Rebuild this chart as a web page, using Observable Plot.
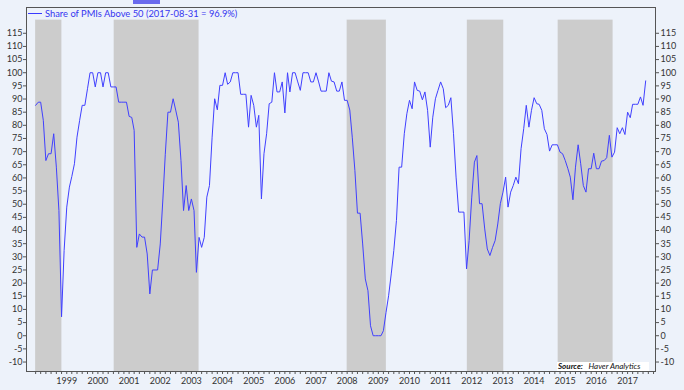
<!DOCTYPE html>
<html><head><meta charset="utf-8">
<script src="https://cdn.jsdelivr.net/npm/d3@7"></script>
<script src="https://cdn.jsdelivr.net/npm/@observablehq/plot@0.6"></script>
<style>
body{margin:0;background:#edf2fa;}
#wrap{position:relative;width:684px;height:390px;overflow:hidden;font-family:Lato,sans-serif;}
#legend{position:absolute;left:28px;top:8px;font-size:9.35px;color:#3535f0;white-space:nowrap;display:flex;align-items:center;}
#legend span.sw{display:inline-block;width:14px;height:0;border-top:1.2px solid #3a3aff;margin-right:3px;}
#source{position:absolute;left:557px;top:362px;width:91px;height:8.5px;background:#fff;font-size:8px;line-height:8.5px;color:#111;font-style:italic;white-space:nowrap;padding-left:1px;}
#tab{position:absolute;left:133px;top:0;width:27px;height:4px;background:#6a6aee;}
</style></head><body>
<div id="wrap"><div id="tab"></div></div>
<script>
// Monthly share of PMIs above 50 (%), starting January 1998, ending August 2017
const startYear = 1998;
const shareAbove50 = [
  87.6, 88.8, 88.8, 81.9, 66.6, 69.2, 69.2, 76.8, 64.1, 47.6, 7.2, 32.4,   // 1998
  48.9, 56.5, 60.5, 65.4, 75.5, 81.9, 87.6, 87.6, 93.9, 100, 100, 94.6,    // 1999
  100, 100, 94.6, 100, 100, 94.6, 94.6, 94.6, 88.8, 88.8, 88.8, 88.8,      // 2000
  83.4, 83.0, 78.1, 33.6, 38.7, 37.5, 37.5, 31.1, 15.9, 25.0, 25.0, 25.0,  // 2001
  34.9, 52.0, 69.0, 85.0, 85.0, 90.1, 85.8, 81.2, 66.6, 47.6, 57.1, 47.6,  // 2002
  52.0, 47.6, 24.1, 37.4, 33.6, 37.4, 52.7, 57.1, 75.5, 90.1, 85.9, 95.2,  // 2003
  95.2, 100, 95.6, 96.5, 100, 100, 100, 91.8, 91.8, 91.8, 79.3, 91.4,      // 2004
  87.6, 79.3, 83.8, 52.0, 69.2, 76.8, 88.2, 88.8, 100, 92.7, 92.7, 96.5,   // 2005
  84.7, 100, 92.7, 100, 100, 96.5, 93.3, 100, 100, 100, 96.5, 96.5,        // 2006
  100, 96.5, 93.0, 93.0, 93.0, 100, 96.8, 96.5, 93.0, 93.0, 96.5, 89.5,    // 2007
  89.5, 85.8, 75.5, 62.8, 46.6, 46.6, 34.9, 21.6, 17.1, 3.8, 0, 0,         // 2008
  0, 0, 1.9, 8.9, 15.2, 23.5, 32.4, 43.8, 64.1, 64.1, 76.8, 84.4,          // 2009
  89.5, 86.3, 96.5, 93.3, 93.0, 89.7, 92.7, 85.7, 71.7, 83.1, 90.1, 93.3,  // 2010
  96.5, 93.9, 86.7, 87.6, 90.5, 76.8, 60.3, 47.0, 47.0, 47.0, 25.4, 36.2,  // 2011
  52.7, 66.0, 68.5, 50.2, 50.2, 40.6, 33.0, 30.5, 33.6, 36.2, 42.5, 50.2,  // 2012
  54.6, 60.3, 48.9, 54.6, 57.1, 60.3, 57.8, 71.1, 78.7, 87.6, 79.3, 85.7,  // 2013
  90.5, 88.2, 88.0, 85.7, 78.7, 76.5, 70.2, 72.6, 72.6, 72.6, 69.8, 69.2,  // 2014
  66.6, 63.5, 60.3, 51.7, 64.1, 72.6, 65.4, 57.1, 54.6, 63.5, 63.5, 69.4,  // 2015
  63.5, 63.5, 66.4, 66.6, 67.7, 76.2, 67.9, 69.8, 79.1, 76.8, 79.1, 76.5,  // 2016
  85.0, 82.9, 88.0, 88.0, 88.0, 90.8, 87.6, 96.9                           // 2017
];
const shadeStart = ["1998-01-01", "2000-07-10", "2008-01-01", "2011-11-10", "2014-10-10"];
const shadeEnd   = ["1998-11-05", "2003-04-01", "2009-04-05", "2013-01-10", "2016-07-15"];
const shadeTop = 120;
const yearLabels = [1999,2000,2001,2002,2003,2004,2005,2006,2007,2008,2009,2010,2011,2012,2013,2014,2015,2016,2017];
const yTickValues = [-10,-5,0,5,10,15,20,25,30,35,40,45,50,55,60,65,70,75,80,85,90,95,100,105,110,115];
const xDomain = ["1997-09-16", "2017-11-24"];
const yDomain = [-13.6, 124.8];

const data = shareAbove50.map((v, i) => ({date: new Date(Date.UTC(startYear, i, 1)), value: v}));
const shaded = shadeStart.map((s, i) => ({x1: new Date(s), x2: new Date(shadeEnd[i])}));
const yearDates = yearLabels.map(y => new Date(Date.UTC(y, 0, 1)));
const minorTicks = d3.utcMonth.every(2).range(new Date(Date.UTC(1998,0,1)), new Date(Date.UTC(2017,11,2)));

const chart = Plot.plot({
  width: 684, height: 390,
  marginTop: 7, marginBottom: 19, marginLeft: 26, marginRight: 29,
  style: {background: "transparent", fontFamily: "Lato, sans-serif", fontSize: "9px", color: "#333"},
  x: {type: "utc", domain: xDomain.map(d => new Date(d))},
  y: {domain: yDomain},
  marks: [
    Plot.rect(shaded, {x1: "x1", x2: "x2", y1: yDomain[0], y2: shadeTop, fill: "#cccccc"}),
    Plot.line(data, {x: "date", y: "value", stroke: "#4040ff", strokeWidth: 1}),
    Plot.frame({stroke: "#555"}),
    Plot.axisY({anchor: "left", ticks: yTickValues, tickSize: 3, tickPadding: 1, tickFormat: d => String(d), label: null, stroke: "#555"}),
    Plot.axisY({anchor: "right", ticks: yTickValues, tickSize: 3, tickPadding: 2, tickFormat: d => String(d), label: null, stroke: "#555"}),
    Plot.axisX({ticks: minorTicks, tickSize: 3, tickFormat: () => "", label: null, stroke: "#555"}),
    Plot.axisX({ticks: yearDates, tickSize: 0, tickPadding: 6, tickFormat: d => String(d.getUTCFullYear()), label: null})
  ]
});
const wrap = document.getElementById("wrap");
wrap.appendChild(chart);
chart.style.position = "absolute"; chart.style.left = "0"; chart.style.top = "0";
const legend = document.createElement("div");
legend.id = "legend";
legend.innerHTML = '<span class="sw"></span>Share of PMIs Above 50 (2017-08-31 = 96.9%)';
wrap.appendChild(legend);
const src = document.createElement("div");
src.id = "source";
src.innerHTML = '<b>Source:</b>&nbsp;&nbsp;&nbsp;Haver Analytics';
wrap.appendChild(src);
</script>
</body></html>
